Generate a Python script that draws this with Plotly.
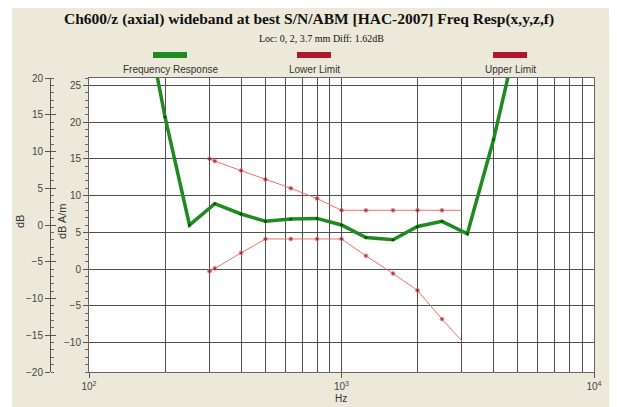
import plotly.graph_objects as go

# ---- data ----
freq_resp_hz = [160, 200, 250, 315, 400, 500, 630, 800, 1000, 1250, 1600, 2000, 2500, 3150, 4000, 5000]
freq_resp_db = [38.0, 20.7, 6.0, 8.9, 7.5, 6.5, 6.8, 6.9, 6.0, 4.3, 4.0, 5.8, 6.5, 4.8, 17.6, 32.0]

limit_hz = [300, 315, 400, 500, 630, 800, 1000, 1250, 1600, 2000, 2500, 3000]
upper_db = [15.0, 14.7, 13.4, 12.2, 11.0, 9.6, 8.0, 8.0, 8.0, 8.0, 8.0, 8.0]
lower_db = [-0.3, 0.1, 2.2, 4.1, 4.1, 4.1, 4.1, 1.8, -0.6, -2.9, -6.8, -9.8]

x_major = [100, 1000, 10000]
x_major_text = ["10<sup>2</sup>", "10<sup>3</sup>", "10<sup>4</sup>"]
x_minor = [200, 300, 400, 500, 600, 700, 800, 900, 2000, 3000, 4000, 5000, 6000, 7000, 8000, 9000]
y_inner_ticks = [-10, -5, 0, 5, 10, 15, 20, 25]
y_outer_ticks = [-20, -15, -10, -5, 0, 5, 10, 15, 20]

title_text = "Ch600/z (axial) wideband at best S/N/ABM [HAC-2007] Freq Resp(x,y,z,f)"
subtitle_text = "Loc: 0, 2, 3.7 mm Diff: 1.62dB"
legend_names = ["Frequency Response", "Lower Limit", "Upper Limit"]

# ---- layout geometry (page pixels; page body has an 8px margin) ----
OFF = 8
W, H = 617 - OFF, 407 - OFF
L, R, T, B = 89, 594, 78, 372     # plot area in page pixels
ML = 40                            # page x where paper starts
OUTER_X = 50

PAPW = R - ML
PH = B - T

def px(xp):
    return (xp - ML) / PAPW

def py(yp):
    return (B - yp) / PH

GREEN = "#1f8a1f"
RED_LINE = "#f07070"
RED_DARK = "#8b0a14"
GRID = "#505050"
BEIGE = "#ECE9DA"
SANS = "Liberation Sans, Arial, sans-serif"
SERIF = "Liberation Serif, Times New Roman, serif"

fig = go.Figure()

fig.add_trace(go.Scatter(
    x=limit_hz, y=upper_db, mode="lines+markers",
    line=dict(color=RED_LINE, width=1),
    marker=dict(color=RED_DARK, size=[4] * (len(limit_hz) - 1) + [0]),
    showlegend=False, hoverinfo="skip"))
fig.add_trace(go.Scatter(
    x=limit_hz, y=lower_db, mode="lines+markers",
    line=dict(color=RED_LINE, width=1),
    marker=dict(color=RED_DARK, size=[4] * (len(limit_hz) - 1) + [0]),
    showlegend=False, hoverinfo="skip"))
fig.add_trace(go.Scatter(
    x=freq_resp_hz, y=freq_resp_db, mode="lines+markers",
    line=dict(color=GREEN, width=3.5),
    marker=dict(color="#0b4d0b", size=3),
    showlegend=False, hoverinfo="skip", cliponaxis=True))
# dummy traces to register the outer axis
fig.add_trace(go.Scatter(x=[None], y=[None], yaxis="y2", showlegend=False, hoverinfo="skip"))
fig.add_trace(go.Scatter(x=[None], y=[None], yaxis="y3", showlegend=False, hoverinfo="skip"))

fig.update_layout(
    width=W, height=H, autosize=False,
    margin=dict(l=ML - OFF, r=617 - R, t=T - OFF, b=407 - B),
    paper_bgcolor=BEIGE, plot_bgcolor="white",
    showlegend=False,
    xaxis=dict(
        domain=[px(L), 1],
        type="log", range=[2, 4],
        tickmode="array", tickvals=x_major, ticktext=x_major_text,
        ticks="outside", ticklen=5, tickcolor="#555",
        tickfont=dict(family=SANS, size=10, color="#444"),
        showgrid=True, gridcolor=GRID, gridwidth=1,
        showline=True, mirror=True, linecolor="#666", linewidth=1,
        zeroline=False,
        minor=dict(tickmode="array", tickvals=x_minor, showgrid=True,
                   gridcolor=GRID, gridwidth=1, ticks=""),
    ),
    yaxis=dict(
        range=[-14, 26],
        tickmode="array", tickvals=y_inner_ticks,
        ticks="outside", ticklen=5, tickcolor="#555",
        tickfont=dict(family=SANS, size=10, color="#444"),
        showgrid=True, gridcolor=GRID, gridwidth=1,
        showline=True, mirror=True, linecolor="#666", linewidth=1,
        zeroline=False,
        minor=dict(tickmode="linear", tick0=0, dtick=1, ticks="outside",
                   ticklen=3, tickcolor="#666", showgrid=False),
    ),
    yaxis2=dict(
        overlaying="y", anchor="free", position=px(OUTER_X), side="left",
        range=[-20, 20],
        tickmode="array", tickvals=y_outer_ticks,
        ticks="outside", ticklen=5, tickcolor="#555",
        tickfont=dict(family=SANS, size=10, color="#444"),
        showgrid=False, zeroline=False,
        showline=True, linecolor="#555", linewidth=1,
        minor=dict(tickmode="linear", tick0=0, dtick=1, ticks="inside",
                   ticklen=3, tickcolor="#666", showgrid=False),
    ),
    yaxis3=dict(
        overlaying="y", anchor="free", position=px(OUTER_X), side="left",
        range=[-20, 20],
        tickmode="array", tickvals=y_outer_ticks,
        ticks="inside", ticklen=5, tickcolor="#555",
        showticklabels=False, showgrid=False, zeroline=False, showline=False,
    ),
)

shapes = []
# a bit more white at the left edge of the screenshot
shapes.append(dict(type="rect", xref="paper", yref="paper", x0=px(OFF - 1), x1=px(12),
                   y0=py(410), y1=py(OFF - 1), fillcolor="white", line=dict(width=0), layer="above"))

# legend swatches
legend_centers = [170, 314, 510]
legend_colors = [GREEN, "#b0182a", "#b0182a"]
for cx, col in zip(legend_centers, legend_colors):
    shapes.append(dict(type="rect", xref="paper", yref="paper",
                       x0=px(cx - 17), x1=px(cx + 17), y0=py(58), y1=py(52),
                       fillcolor=col, line=dict(width=0), layer="above"))
fig.update_layout(shapes=shapes)

ann = []
ann.append(dict(text="<b>" + title_text + "</b>", x=px(309), y=py(19), xref="paper", yref="paper",
                showarrow=False, xanchor="center", yanchor="middle",
                font=dict(family=SERIF, size=15.5, color="#111")))
ann.append(dict(text=subtitle_text, x=px(321), y=py(38), xref="paper", yref="paper",
                showarrow=False, xanchor="center", yanchor="middle",
                font=dict(family=SERIF, size=10, color="#111")))
for cx, name in zip(legend_centers, legend_names):
    ann.append(dict(text=name, x=px(cx), y=py(69), xref="paper", yref="paper",
                    showarrow=False, xanchor="center", yanchor="middle",
                    font=dict(family=SANS, size=10, color="#333")))
ann.append(dict(text="dB", x=px(20), y=py(222), xref="paper", yref="paper",
                showarrow=False, textangle=-90, xanchor="center", yanchor="middle",
                font=dict(family=SANS, size=11, color="#333")))
ann.append(dict(text="dB A/m", x=px(62), y=py(222), xref="paper", yref="paper",
                showarrow=False, textangle=-90, xanchor="center", yanchor="middle",
                font=dict(family=SANS, size=11, color="#333")))
ann.append(dict(text="Hz", x=px(341), y=py(398), xref="paper", yref="paper",
                showarrow=False, xanchor="center", yanchor="middle",
                font=dict(family=SANS, size=10, color="#333")))
fig.update_layout(annotations=ann)

fig.write_html("out.html")
